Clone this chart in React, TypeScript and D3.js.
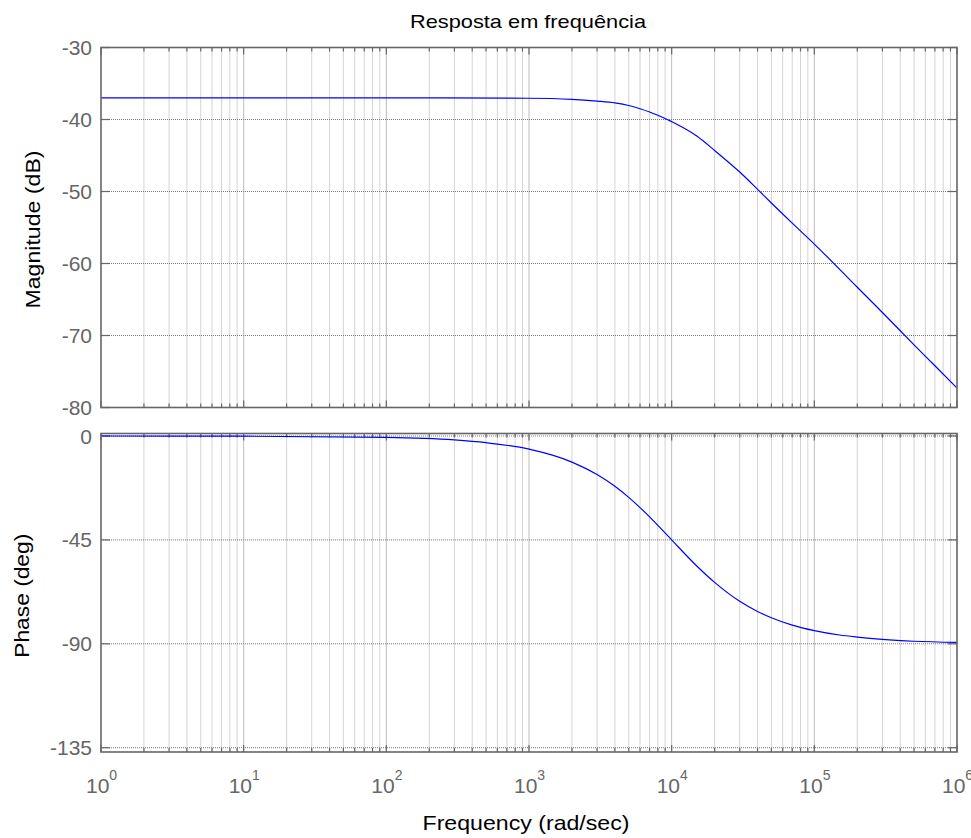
import React from "react";
import * as d3 from "d3";

const magFreq = [1, 10, 100, 1000, 2000, 3000, 4000, 5000, 6000, 7000, 8000, 10000, 15000, 20000, 30000, 40000, 50000, 70000, 100000, 200000, 300000, 500000, 700000, 1000000];
const magDb = [-37, -37, -37, -37.05, -37.2, -37.45, -37.7, -38.05, -38.5, -38.95, -39.4, -40.3, -42.3, -44.3, -47.3, -49.7, -51.6, -54.4, -57.3, -63.3, -66.8, -71.3, -74.2, -77.3];

const phaseFreq = [1, 10, 100, 300, 500, 1000, 2000, 3000, 4000, 5000, 6000, 7000, 8000, 10000, 15000, 20000, 30000, 40000, 50000, 70000, 100000, 150000, 200000, 300000, 500000, 1000000];
const phaseDeg = [0, -0.06, -0.6, -1.7, -2.9, -5.7, -11.3, -16.7, -21.8, -26.6, -31, -35, -38.7, -45, -56.3, -63.4, -71.6, -76, -78.7, -81.9, -84.3, -86.2, -87.1, -88.1, -88.9, -89.4];

const magTicks = [-30, -40, -50, -60, -70, -80];
const phaseTicks = [0, -45, -90, -135];
const decadeExps = [0, 1, 2, 3, 4, 5, 6];

const titleText = "Resposta em frequência";
const magLabel = "Magnitude (dB)";
const phaseLabel = "Phase (deg)";
const xLabel = "Frequency  (rad/sec)";

const FONT = "'Liberation Sans', Arial, sans-serif";
const AX = "#666666";

export default function App() {
  const x = d3.scaleLog().domain([1, 1e6]).range([101, 957]);
  const yMag = d3.scaleLinear().domain([-80, -30]).range([407.5, 47.5]);
  const yPh = d3.scaleLinear().domain([-135, 0]).range([747.7, 436]);
  const magBox = { top: 47.5, bottom: 407.5 };
  const phBox = { top: 433.5, bottom: 752 };

  const allTicks: { v: number; major: boolean }[] = [];
  for (let e = 0; e < 6; e++) {
    for (let m = 1; m < 10; m++) allTicks.push({ v: m * Math.pow(10, e), major: m === 1 });
  }
  allTicks.push({ v: 1e6, major: true });

  const magLine = d3
    .line<number>()
    .x((_, i) => x(magFreq[i]))
    .y((d) => yMag(d))
    .curve(d3.curveMonotoneX);
  const phLine = d3
    .line<number>()
    .x((_, i) => x(phaseFreq[i]))
    .y((d) => yPh(d))
    .curve(d3.curveMonotoneX);

  const renderAxes = (
    key: string,
    box: { top: number; bottom: number },
    yScale: d3.ScaleLinear<number, number>,
    ticks: number[],
    path: string,
    clipId: string
  ) => (
    <g key={key}>
      <defs>
        <clipPath id={clipId}>
          <rect x={101} y={box.top} width={856} height={box.bottom - box.top} />
        </clipPath>
      </defs>
      {allTicks.map((t, i) =>
        t.v > 1 && t.v < 1e6 ? (
          <line
            key={"vg" + i}
            x1={x(t.v)}
            x2={x(t.v)}
            y1={box.top}
            y2={box.bottom}
            stroke={t.major ? "#7a7a7a" : "#a8a8a8"}
            strokeWidth={1}
            strokeDasharray="1,1"
          />
        ) : null
      )}
      {ticks.map((t) => (
        <line
          key={"hg" + t}
          x1={101}
          x2={957}
          y1={yScale(t)}
          y2={yScale(t)}
          stroke="#7a7a7a"
          strokeWidth={1}
          strokeDasharray="1,1"
        />
      ))}
      {allTicks.map((t, i) => (
        <g key={"xt" + i}>
          <line x1={x(t.v)} x2={x(t.v)} y1={box.top} y2={box.top + (t.major ? 7 : 4)} stroke={AX} strokeWidth={1.2} />
          <line x1={x(t.v)} x2={x(t.v)} y1={box.bottom} y2={box.bottom - (t.major ? 7 : 4)} stroke={AX} strokeWidth={1.2} />
        </g>
      ))}
      {ticks.map((t) => (
        <g key={"yt" + t}>
          <line x1={101} x2={110} y1={yScale(t)} y2={yScale(t)} stroke={AX} strokeWidth={1.2} />
          <line x1={957} x2={948} y1={yScale(t)} y2={yScale(t)} stroke={AX} strokeWidth={1.2} />
          <text
            x={92}
            y={yScale(t)}
            textAnchor="end"
            dominantBaseline="central"
            fontSize={21}
            fill={AX}
            fontFamily={FONT}
          >
            {t}
          </text>
        </g>
      ))}
      <path d={path} fill="none" stroke="#0000ff" strokeWidth={1.2} clipPath={`url(#${clipId})`} />
      <rect
        x={101}
        y={box.top}
        width={856}
        height={box.bottom - box.top}
        fill="none"
        stroke={AX}
        strokeWidth={1.6}
      />
    </g>
  );

  return (
    <svg width={971} height={838} style={{ display: "block", position: "absolute", left: 0, top: 0, background: "#fff" }}>
      <rect x={0} y={0} width={971} height={838} fill="#fff" />
      <text
        x={528}
        y={28}
        textAnchor="middle"
        fontSize={19}
        fontFamily={FONT}
        fill="#000"
        textLength={236}
        lengthAdjust="spacingAndGlyphs"
      >
        {titleText}
      </text>
      {renderAxes("mag", magBox, yMag, magTicks, magLine(magDb) || "", "clipMag")}
      {renderAxes("ph", phBox, yPh, phaseTicks, phLine(phaseDeg) || "", "clipPh")}
      {decadeExps.map((e) => (
        <text key={"xl" + e} x={x(Math.pow(10, e)) - 15} y={793} textAnchor="start" fontSize={21} fill={AX} fontFamily={FONT}>
          10
          <tspan dy={-13} fontSize={14}>
            {e}
          </tspan>
        </text>
      ))}
      <text
        transform={`translate(40,${(magBox.top + magBox.bottom) / 2 + 2}) rotate(-90)`}
        textAnchor="middle"
        fontSize={21}
        fontFamily={FONT}
        fill="#000"
        textLength={158}
        lengthAdjust="spacingAndGlyphs"
      >
        {magLabel}
      </text>
      <text
        transform={`translate(29,${(phBox.top + phBox.bottom) / 2 + 3}) rotate(-90)`}
        textAnchor="middle"
        fontSize={21}
        fontFamily={FONT}
        fill="#000"
        textLength={124}
        lengthAdjust="spacingAndGlyphs"
      >
        {phaseLabel}
      </text>
      <text
        x={526}
        y={830}
        textAnchor="middle"
        fontSize={21}
        fontFamily={FONT}
        fill="#000"
        textLength={207}
        lengthAdjust="spacingAndGlyphs"
      >
        {xLabel}
      </text>
    </svg>
  );
}
